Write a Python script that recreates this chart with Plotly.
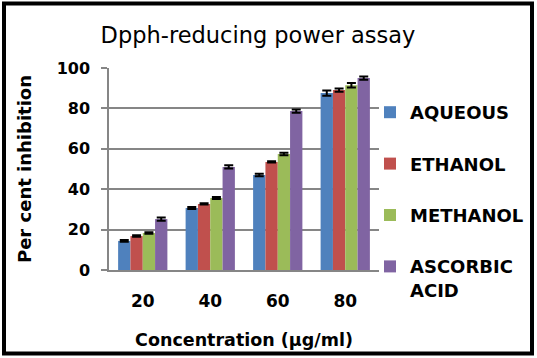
import plotly.graph_objects as go

categories = ["20", "40", "60", "80"]
series_names = ["AQUEOUS", "ETHANOL", "METHANOL", "ASCORBIC<br>ACID"]
aqueous = [14.4, 30.7, 47.0, 87.6]
ethanol = [16.8, 32.7, 53.5, 89.1]
methanol = [18.3, 35.6, 57.4, 91.5]
ascorbic = [25.2, 51.0, 78.7, 95.0]
aqueous_err = [0.4, 0.5, 0.6, 1.3]
ethanol_err = [0.4, 0.3, 0.3, 0.8]
methanol_err = [0.4, 0.5, 0.6, 1.1]
ascorbic_err = [0.8, 0.8, 0.8, 0.85]
colors = ["#4F81BD", "#C0504D", "#9BBB59", "#8064A2"]

FONT = "DejaVu Sans, Verdana, sans-serif"

fig = go.Figure()
for i, (name, vals, errs) in enumerate(zip(
        series_names,
        [aqueous, ethanol, methanol, ascorbic],
        [aqueous_err, ethanol_err, methanol_err, ascorbic_err])):
    fig.add_trace(go.Bar(
        x=categories, y=vals, name=name,
        marker=dict(color=colors[i], line=dict(width=0)),
        error_y=dict(type="data", array=errs, color="black", thickness=2, width=4.5),
        legendgroup=str(i),
    ))

fig.update_layout(
    width=537, height=358,
    margin=dict(l=109, r=158, t=68, b=88, autoexpand=False),
    paper_bgcolor="white", plot_bgcolor="white",
    barmode="group", bargap=0.27, bargroupgap=0,
    font=dict(family=FONT, color="black"),
    title=dict(text="Dpph-reducing power assay", x=258/537, xanchor="center",
               y=1 - 35/358, yanchor="middle",
               font=dict(family=FONT, size=22.5, color="black")),
    legend=dict(x=(370 - 109) / 270, xanchor="left", y=1 - (94 - 68) / 202, yanchor="top",
                font=dict(family=FONT, size=18, color="black", weight="bold"),
                tracegroupgap=25, valign="top", itemwidth=30, maxheight=400,
                bgcolor="rgba(0,0,0,0)"),
    xaxis=dict(showline=True, linecolor="#868686", linewidth=1.5,
               ticks="", ticklabelstandoff=15,
               tickfont=dict(family=FONT, size=17, weight="bold"),
               title=dict(text="Concentration (µg/ml)", standoff=24,
                          font=dict(family=FONT, size=17.5, weight="bold"))),
    yaxis=dict(range=[0, 100], dtick=20, showgrid=True, gridcolor="#868686", gridwidth=1.5,
               showline=True, linecolor="#868686", linewidth=1.5,
               ticks="outside", ticklen=6, tickcolor="#868686", tickwidth=1.5,
               ticklabelstandoff=8,
               tickfont=dict(family=FONT, size=16, weight="bold"),
               title=dict(text="Per cent inhibition", standoff=20,
                          font=dict(family=FONT, size=18, weight="bold"))),
    shapes=[dict(type="rect", xref="paper", yref="paper",
                 x0=(4 - 109) / 270, x1=(532 - 109) / 270,
                 y0=(270 - 353.5) / 202, y1=(270 - 3.5) / 202,
                 line=dict(color="black", width=4), fillcolor="rgba(0,0,0,0)")],
)

fig.write_html("out.html", config={"displayModeBar": False},
               post_script="document.body.style.margin='0';document.body.style.overflow='hidden';")
